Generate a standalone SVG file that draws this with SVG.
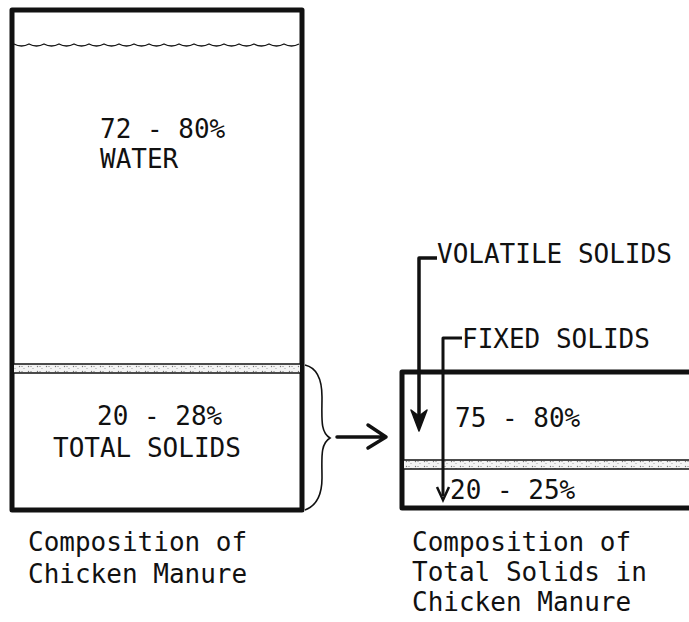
<svg xmlns="http://www.w3.org/2000/svg" width="689" height="622" viewBox="0 0 689 622">
<style>
text{font-family:"DejaVu Sans Mono","Liberation Mono",monospace;font-size:26px;fill:#111}
.box{fill:none;stroke:#111;stroke-width:5;stroke-linejoin:round}
.thin{fill:none;stroke:#111;stroke-width:1.4}
.conn{fill:none;stroke:#111;stroke-width:3.5;stroke-linecap:butt;stroke-linejoin:round}
</style>
<defs>
<pattern id="stip" width="9" height="5" patternUnits="userSpaceOnUse">
<rect width="9" height="5" fill="#f4f4f4"/>
<circle cx="1.5" cy="1.5" r="0.7" fill="#777"/>
<circle cx="6" cy="3.5" r="0.6" fill="#999"/>
<rect x="3" y="1" width="2" height="0.8" fill="#aaa"/>
</pattern>
</defs>

<g id="manure-box">
<rect x="12" y="10" width="290" height="500" class="box"/>
<path class="thin" d="M14,44 q7.5,4 15,0 7.5,4 15,0 7.5,4 15,0 7.5,4 15,0 7.5,4 15,0 7.5,4 15,0 7.5,4 15,0 7.5,4 15,0 7.5,4 15,0 7.5,4 15,0 7.5,4 15,0 7.5,4 15,0 7.5,4 15,0 7.5,4 15,0 7.5,4 15,0 7.5,4 15,0 7.5,4 15,0 7.5,4 15,0 7.5,4 15,0"/>
<rect x="14" y="364" width="286" height="9" fill="url(#stip)"/>
<line x1="14" y1="364" x2="300" y2="364" class="thin"/>
<line x1="14" y1="373" x2="300" y2="373" class="thin"/>
<text x="100" y="138">72 - 80%</text>
<text x="100" y="168">WATER</text>
<text x="97" y="425">20 - 28%</text>
<text x="53" y="457">TOTAL SOLIDS</text>
</g>

<g id="solids-box">
<path class="box" d="M700,372 L402,372 L402,508 L700,508"/>
<rect x="404" y="460" width="290" height="9" fill="url(#stip)"/>
<line x1="404" y1="460" x2="689" y2="460" class="thin"/>
<line x1="404" y1="469" x2="689" y2="469" class="thin"/>
<text x="455" y="427">75 - 80%</text>
<text x="450" y="499">20 - 25%</text>
</g>

<g id="volatile-label">
<text x="437" y="263">VOLATILE SOLIDS</text>
</g>
<g id="fixed-label">
<text x="462" y="348">FIXED SOLIDS</text>
</g>

<g id="caption-left">
<text x="28" y="551">Composition of</text>
<text x="28" y="583">Chicken Manure</text>
</g>
<g id="caption-right">
<text x="412" y="551">Composition of</text>
<text x="412" y="581">Total Solids in</text>
<text x="412" y="611">Chicken Manure</text>
</g>

<g id="connectors">
<path class="thin" d="M305,365 C318,368 322,380 322,397 C322,418 320,432 330,438 C320,444 322,458 322,478 C322,495 316,506 305,510" style="stroke-width:1.6"/>
<path class="conn" d="M337,437 L386,437 M368,425 L386,437 L368,448" style="stroke-linecap:round"/>
<path class="conn" d="M437,258 L419,258 L419,416"/>
<path d="M411,410 L419,431 L427,410 L419,416 Z" fill="#111" stroke="#111" stroke-width="1.5" stroke-linejoin="round"/>
<path class="conn" d="M462,338 L443,338 L443,496" style="stroke-width:3"/>
<path d="M437,487 L443,500 L449,487" fill="none" stroke="#111" stroke-width="2.5"/>
</g>
</svg>
